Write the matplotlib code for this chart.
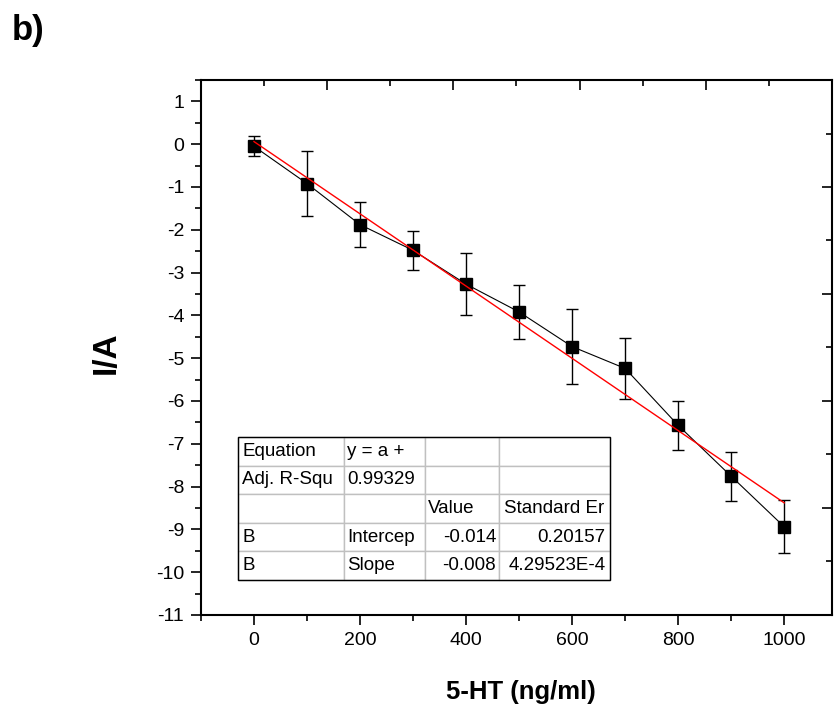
import numpy as np
import matplotlib
matplotlib.use("Agg")
import matplotlib.pyplot as plt
from matplotlib.table import Table
from matplotlib.patches import Rectangle
from matplotlib.ticker import MultipleLocator

plt.rcParams['font.family'] = ['Liberation Sans', 'DejaVu Sans']
plt.rcParams['axes.unicode_minus'] = False

# data
conc = np.array([0, 100, 200, 300, 400, 500, 600, 700, 800, 900, 1000])
current = np.array([-0.05, -0.92, -1.88, -2.48, -3.27, -3.92, -4.73, -5.24, -6.57, -7.76, -8.94])
err = np.array([0.23, 0.76, 0.52, 0.46, 0.73, 0.64, 0.87, 0.71, 0.58, 0.57, 0.62])

# fit report table (as printed in the figure)
table_rows = [
    ["Equation", "y = a +", "", ""],
    ["Adj. R-Squ", "0.99329", "", ""],
    ["", "", "Value", "Standard Er"],
    ["B", "Intercep", "-0.014", "0.20157"],
    ["B", "Slope", "-0.008", "4.29523E-4"],
]
right_aligned = {"-0.014", "0.20157", "-0.008", "4.29523E-4"}
col_widths = [0.285, 0.218, 0.199, 0.298]

fig = plt.figure(figsize=(8.37, 7.08), dpi=100)
rect = [0.2401, 0.1314, 0.7539, 0.7556]
ax = fig.add_axes(rect)

ax.errorbar(conc, current, yerr=err, fmt='s-', color='black', ms=8.5, lw=0.8,
            elinewidth=1, capsize=4, capthick=1, zorder=3)

a, b = np.polyfit(conc, current, 1)
xf = np.array([conc.min(), conc.max()])
ax.plot(xf, a * xf + b, color='red', lw=1, zorder=4)

ax.set_xlim(-100, 1090)
ax.set_ylim(-11, 1.5)
ax.xaxis.set_major_locator(MultipleLocator(200))
ax.xaxis.set_minor_locator(MultipleLocator(100))
ax.yaxis.set_major_locator(MultipleLocator(1))
ax.yaxis.set_minor_locator(MultipleLocator(0.5))
ax.tick_params(which='both', direction='out', width=1.2, labelsize=14, pad=5)
ax.tick_params(which='major', length=7)
ax.tick_params(which='minor', length=4)
for s in ax.spines.values():
    s.set_linewidth(1.5)

ax.set_xlabel('5-HT (ng/ml)', fontsize=18.5, fontweight='bold')
ax.xaxis.set_label_coords(0.507, -0.122)
ax.set_ylabel('I/A', fontsize=24, fontweight='bold')
ax.yaxis.set_label_coords(-0.125, 0.49)

# top / right axes with their own ticks (inward, no labels)
ax2 = fig.add_axes(rect, frameon=False)
ax2.set_xlim(0, 1)
ax2.set_ylim(0, 1)
ax2.xaxis.tick_top()
ax2.yaxis.tick_right()
ax2.xaxis.set_major_locator(MultipleLocator(0.2))
ax2.xaxis.set_minor_locator(MultipleLocator(0.1))
ax2.yaxis.set_major_locator(MultipleLocator(0.2))
ax2.yaxis.set_minor_locator(MultipleLocator(0.1))
ax2.tick_params(which='both', direction='in', width=1.2, labeltop=False, labelright=False)
ax2.tick_params(which='major', length=7)
ax2.tick_params(which='minor', length=4)
ax2.patch.set_visible(False)

# fit table
tb = Table(ax, bbox=[0.0586, 0.0654, 0.5895, 0.267])
nrows = len(table_rows)
for i, row in enumerate(table_rows):
    for j, txt in enumerate(row):
        loc = 'right' if txt in right_aligned else 'left'
        c = tb.add_cell(i, j, col_widths[j], 1.0 / nrows, text=txt, loc=loc,
                        edgecolor='#c0c0c0', facecolor='white')
        c.PAD = 0.04
        c.set_linewidth(1)
tb.auto_set_font_size(False)
tb.set_fontsize(13.5)
tb.set_zorder(5)
ax.add_table(tb)
ax.add_patch(Rectangle((0.0586, 0.0654), 0.5895, 0.267, transform=ax.transAxes,
                       fill=False, edgecolor='black', lw=1, zorder=6))

fig.text(12 / 837, 1 - 14 / 708, 'b)', fontsize=25, fontweight='bold', ha='left', va='top')

fig.savefig('out.png', dpi=100)
